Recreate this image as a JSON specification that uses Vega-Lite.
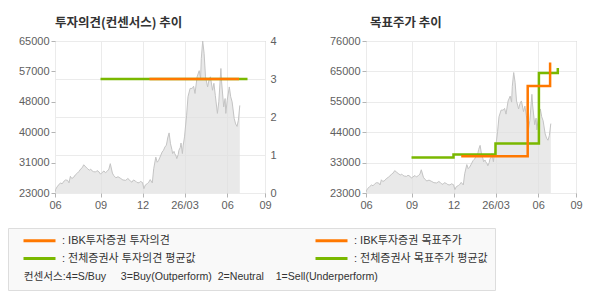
{
  "$schema": "https://vega.github.io/schema/vega-lite/v6.json",
  "background": "white",
  "padding": {"left": 7, "top": 16, "right": 5, "bottom": 5},
  "datasets": {
    "price": [
      {"d":0,"price":23300},{"d":1,"price":24000},{"d":3,"price":24700},{"d":5,"price":25200},{"d":8,"price":25800},{"d":10,"price":25500},{"d":13,"price":26300},{"d":15,"price":26600},{"d":18,"price":26500},{"d":20,"price":25800},{"d":22,"price":27600},{"d":24,"price":27000},{"d":27,"price":27400},{"d":29,"price":28000},{"d":32,"price":28500},{"d":34,"price":28900},{"d":37,"price":29700},{"d":39,"price":30000},{"d":41,"price":30800},{"d":44,"price":30200},{"d":46,"price":29800},{"d":49,"price":29300},{"d":51,"price":29600},{"d":53,"price":29100},{"d":55,"price":28900},{"d":58,"price":28800},{"d":60,"price":29200},{"d":63,"price":28800},{"d":65,"price":28200},{"d":67,"price":28600},{"d":70,"price":29100},{"d":72,"price":28600},{"d":75,"price":29100},{"d":77,"price":29600},{"d":79,"price":31100},{"d":82,"price":28500},{"d":84,"price":27800},{"d":87,"price":27200},{"d":90,"price":27500},{"d":94,"price":27000},{"d":97,"price":26600},{"d":101,"price":26500},{"d":104,"price":27000},{"d":106,"price":26700},{"d":108,"price":26200},{"d":110,"price":26000},{"d":112,"price":26600},{"d":115,"price":26300},{"d":117,"price":25900},{"d":120,"price":25800},{"d":122,"price":26200},{"d":125,"price":25900},{"d":127,"price":24200},{"d":129,"price":25200},{"d":132,"price":25600},{"d":134,"price":26000},{"d":136,"price":26700},{"d":139,"price":25800},{"d":141,"price":29700},{"d":144,"price":32900},{"d":146,"price":31500},{"d":148,"price":32000},{"d":150,"price":32900},{"d":153,"price":34300},{"d":155,"price":34800},{"d":157,"price":35700},{"d":159,"price":36200},{"d":160,"price":37100},{"d":161,"price":38200},{"d":163,"price":39600},{"d":165,"price":36600},{"d":167,"price":35000},{"d":168,"price":33900},{"d":170,"price":34500},{"d":171,"price":33900},{"d":173,"price":33200},{"d":174,"price":32500},{"d":176,"price":33600},{"d":177,"price":34800},{"d":179,"price":35600},{"d":180,"price":36800},{"d":182,"price":33900},{"d":183,"price":36000},{"d":185,"price":38500},{"d":188,"price":44500},{"d":190,"price":49600},{"d":193,"price":51900},{"d":196,"price":51900},{"d":198,"price":52500},{"d":200,"price":50500},{"d":203,"price":55100},{"d":206,"price":56800},{"d":208,"price":54700},{"d":209,"price":60200},{"d":211,"price":65000},{"d":213,"price":61600},{"d":215,"price":55100},{"d":218,"price":52300},{"d":220,"price":54200},{"d":222,"price":55100},{"d":225,"price":51400},{"d":227,"price":53300},{"d":229,"price":50000},{"d":232,"price":45000},{"d":234,"price":48200},{"d":237,"price":57400},{"d":238,"price":53700},{"d":241,"price":46800},{"d":243,"price":49100},{"d":244,"price":45000},{"d":246,"price":48600},{"d":249,"price":52300},{"d":251,"price":49600},{"d":253,"price":48200},{"d":256,"price":43600},{"d":258,"price":42100},{"d":260,"price":41400},{"d":262,"price":43100},{"d":264,"price":47200}
    ],
    "opinion": [
      {"series":"전체증권사 투자의견 평균값","d":65,"value":3},
      {"series":"전체증권사 투자의견 평균값","d":275,"value":3},
      {"series":"IBK투자증권 투자의견","d":135,"value":3},
      {"series":"IBK투자증권 투자의견","d":263,"value":3}
    ],
    "target": [
      {"series":"전체증권사 목표주가 평균값","d":65,"value":35400},
      {"series":"전체증권사 목표주가 평균값","d":125,"value":36400},
      {"series":"전체증권사 목표주가 평균값","d":185,"value":40300},
      {"series":"전체증권사 목표주가 평균값","d":247,"value":64800},
      {"series":"전체증권사 목표주가 평균값","d":274,"value":66600},
      {"series":"IBK투자증권 목표주가","d":136,"value":35800},
      {"series":"IBK투자증권 목표주가","d":231,"value":60300},
      {"series":"IBK투자증권 목표주가","d":263,"value":68500}
    ]
  },
  "config": {
    "view": {"stroke": "#b4b4b4"},
    "font": "Liberation Sans",
    "axis": {
      "title": null,
      "domain": false,
      "labelFont": "Liberation Sans",
      "labelFontSize": 11,
      "labelColor": "#606060",
      "labelOverlap": false,
      "labelFlush": false,
      "tickCount": 12,
      "tickColor": "#b4b4b4",
      "tickSize": 4,
      "labelPadding": 2,
      "gridColor": "#ebebeb",
      "zindex": 1
    },
    "title": {
      "font": "Noto Sans CJK KR",
      "fontSize": 12.5,
      "fontWeight": "bold",
      "color": "#333333",
      "anchor": "start",
      "frame": "group",
      "offset": 6
    },
    "legend": {
      "orient": "none",
      "legendX": -47,
      "legendY": 187,
      "columns": 2,
      "columnPadding": 111,
      "rowPadding": 5,
      "symbolType": "M-4,0H4",
      "symbolSize": 64,
      "symbolStrokeWidth": 3,
      "symbolOffset": 19,
      "labelOffset": 17,
      "labelFont": "Liberation Sans, Noto Sans CJK KR",
      "labelFontSize": 11,
      "labelColor": "#333333",
      "labelLimit": 400,
      "padding": 7,
      "fillColor": "#f9f9f9",
      "strokeColor": "#dddddd",
      "titleOrient": "bottom",
      "titleAnchor": "start",
      "titleFont": "Liberation Sans, Noto Sans CJK KR",
      "titleFontWeight": "normal",
      "titleFontSize": 10.6,
      "titleColor": "#333333",
      "titleLimit": 700,
      "titlePadding": 7
    }
  },
  "spacing": 51,
  "hconcat": [
    {
      "width": 210,
      "height": 152,
      "title": {"text": "투자의견(컨센서스) 추이"},
      "layer": [
        {
          "data": {"name": "price"},
          "mark": {"type": "area", "clip": true, "color": "#e0e0e0", "line": {"color": "#c4c4c4", "strokeWidth": 1}},
          "encoding": {
            "x": {"field": "d", "type": "quantitative", "scale": {"domain": [0, 300], "nice": false},
              "axis": {"values": [0, 65, 125, 185, 246, 300], "grid": true,
                "labelExpr": "['06','09','12','26/03','06','09'][indexof([0,65,125,185,246,300], datum.value)]"}},
            "y": {"field": "price", "type": "quantitative", "scale": {"domain": [23000, 65000], "zero": false, "nice": false},
              "axis": {"orient": "left", "grid": false, "values": [23000, 31400, 39800, 48200, 56600, 65000],
                "labelExpr": "format(round(datum.value/1000)*1000, 'd')"}}
          }
        },
        {
          "data": {"name": "opinion"},
          "layer": [
            {
              "transform": [{"filter": "datum.series == '전체증권사 투자의견 평균값'"}],
              "mark": {"type": "line", "strokeWidth": 2.5},
              "encoding": {
                "x": {"field": "d", "type": "quantitative"},
                "y": {"field": "value", "type": "quantitative"},
                "color": {"field": "series", "type": "nominal"}
              }
            },
            {
              "transform": [{"filter": "datum.series == 'IBK투자증권 투자의견'"}],
              "mark": {"type": "line", "strokeWidth": 2.5},
              "encoding": {
                "x": {"field": "d", "type": "quantitative"},
                "y": {"field": "value", "type": "quantitative", "scale": {"domain": [0, 4], "nice": false},
                  "axis": {"orient": "right", "grid": true, "values": [0, 1, 2, 3, 4], "format": "d", "ticks": false, "labelPadding": 5}},
                "color": {"field": "series", "type": "nominal"}
              }
            }
          ]
        }
      ],
      "resolve": {"scale": {"y": "independent"}}
    },
    {
      "width": 210,
      "height": 152,
      "title": {"text": "목표주가 추이", "dx": 4},
      "layer": [
        {
          "data": {"name": "price"},
          "mark": {"type": "area", "clip": true, "color": "#e0e0e0", "line": {"color": "#c4c4c4", "strokeWidth": 1}},
          "encoding": {
            "x": {"field": "d", "type": "quantitative", "scale": {"domain": [0, 300], "nice": false},
              "axis": {"values": [0, 65, 125, 185, 246, 300], "grid": true,
                "labelExpr": "['06','09','12','26/03','06','09'][indexof([0,65,125,185,246,300], datum.value)]"}},
            "y": {"field": "price", "type": "quantitative", "scale": {"domain": [23000, 76000], "zero": false, "nice": false},
              "axis": {"orient": "left", "grid": true, "values": [23000, 33600, 44200, 54800, 65400, 76000],
                "labelExpr": "datum.value == 33600 ? '33000' : format(round(datum.value/1000)*1000, 'd')"}}
          }
        },
        {
          "data": {"name": "target"},
          "transform": [{"filter": "datum.series == '전체증권사 목표주가 평균값'"}],
          "mark": {"type": "line", "strokeWidth": 2.5, "interpolate": "step-after"},
          "encoding": {
            "x": {"field": "d", "type": "quantitative"},
            "y": {"field": "value", "type": "quantitative"},
            "color": {"field": "series", "type": "nominal"}
          }
        },
        {
          "data": {"name": "target"},
          "transform": [{"filter": "datum.series == 'IBK투자증권 목표주가'"}],
          "mark": {"type": "line", "strokeWidth": 2.5, "interpolate": "step-after"},
          "encoding": {
            "x": {"field": "d", "type": "quantitative"},
            "y": {"field": "value", "type": "quantitative"},
            "color": {"field": "series", "type": "nominal",
              "scale": {
                "domain": ["IBK투자증권 투자의견", "전체증권사 투자의견 평균값", "IBK투자증권 목표주가", "전체증권사 목표주가 평균값"],
                "range": ["#ff7800", "#7ab800", "#ff7800", "#7ab800"]
              },
              "legend": {
                "title": "\u200b\u00a0\u00a0\u00a0컨센서스:4=S/Buy\u00a0\u00a0\u00a0\u00a0 3=Buy(Outperform)\u00a0\u00a02=Neutral\u00a0\u00a0\u00a0 1=Sell(Underperform)",
                "labelExpr": "': ' + datum.label",
                "symbolType": "M-4,0H4",
                "symbolSize": 64,
                "symbolStrokeWidth": 3
              }
            }
          }
        }
      ]
    }
  ]
}
